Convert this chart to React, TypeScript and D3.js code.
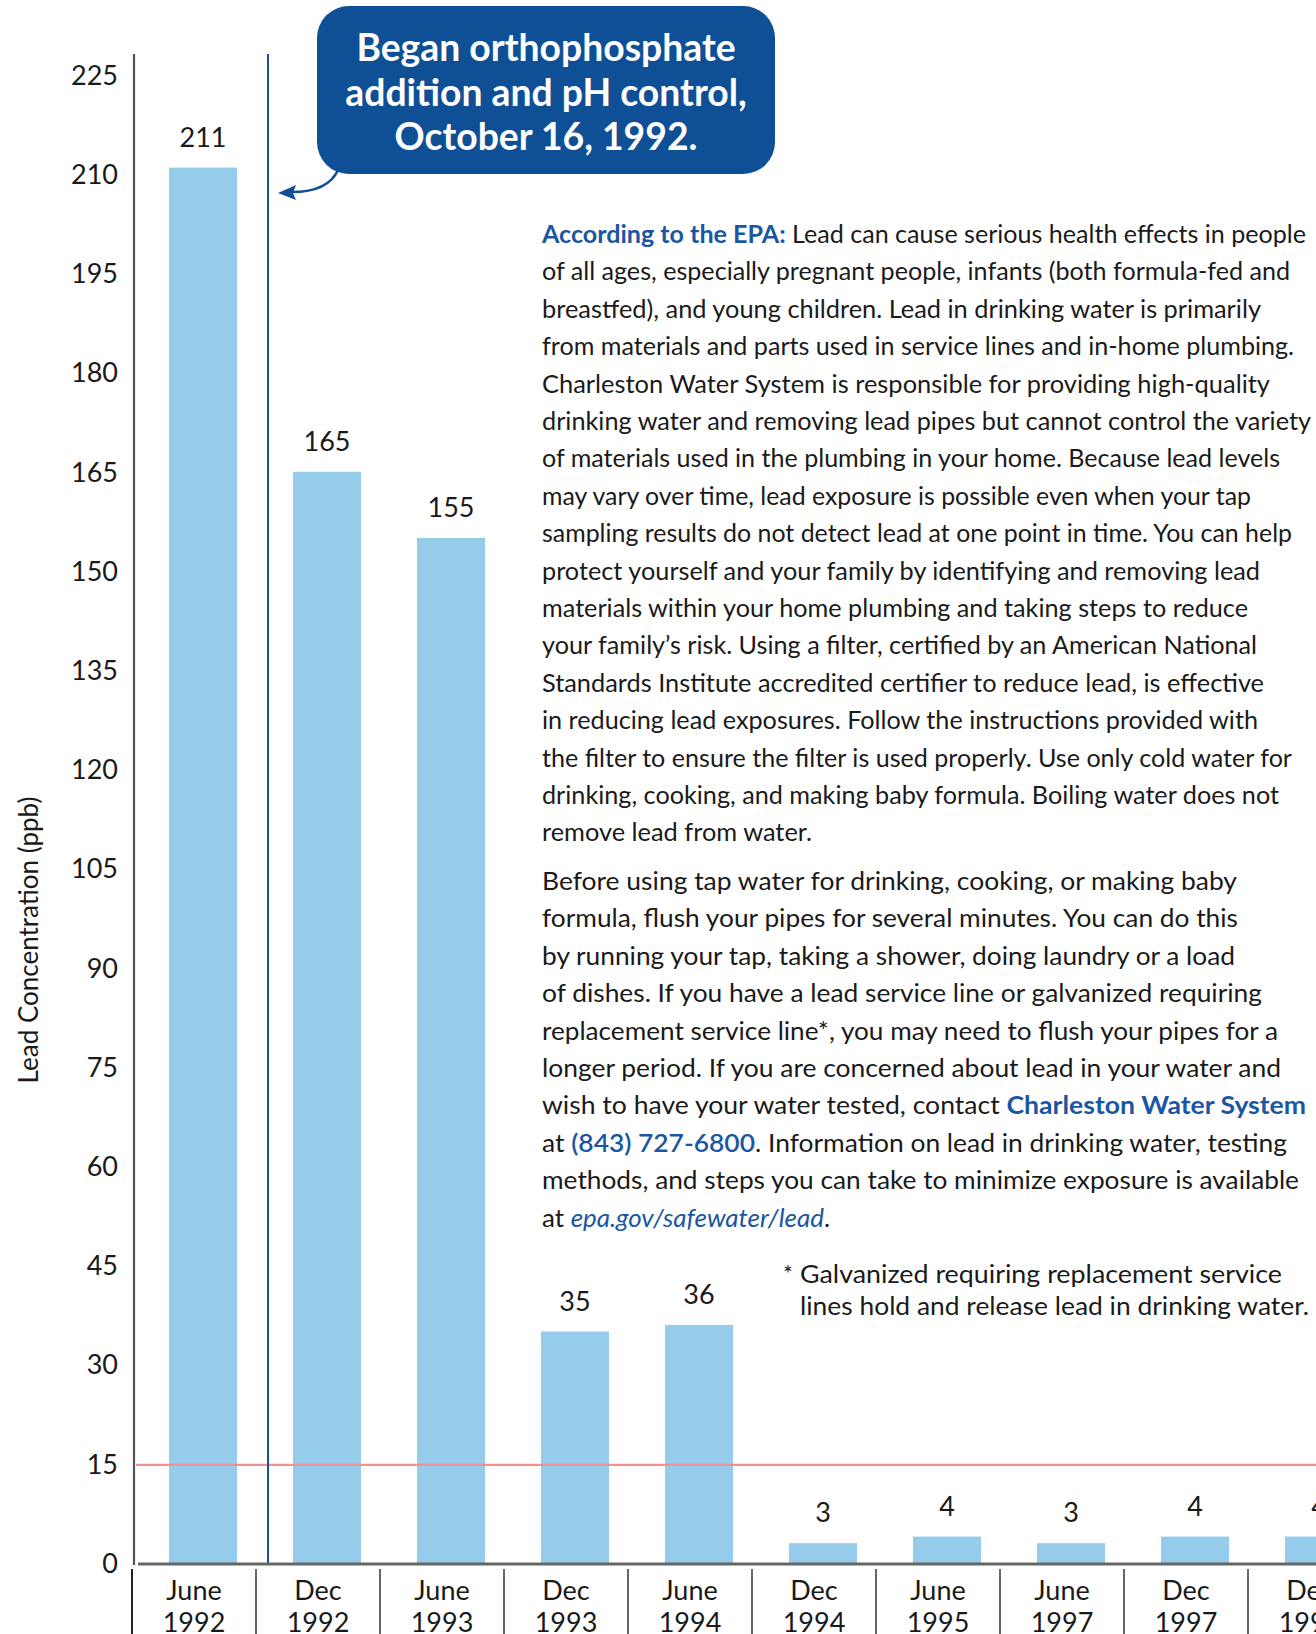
import React, { useLayoutEffect } from "react";
import * as d3 from "d3";

const categories = ["June|1992", "Dec|1992", "June|1993", "Dec|1993", "June|1994", "Dec|1994", "June|1995", "June|1997", "Dec|1997", "Dec|1998"];
const values = [211, 165, 155, 35, 36, 3, 4, 3, 4, 4];
const yTicks = [0, 15, 30, 45, 60, 75, 90, 105, 120, 135, 150, 165, 180, 195, 210, 225];
const actionLevel = 15;
const calloutLines = ["Began orthophosphate", "addition and pH control,", "October 16, 1992."];

type Seg = [string, string];
const para1: Seg[][] = [
  [["b", "According to the EPA:"], ["n", " Lead can cause serious health effects in people"]],
  [["n", "of all ages, especially pregnant people, infants (both formula-fed and"]],
  [["n", "breastfed), and young children. Lead in drinking water is primarily"]],
  [["n", "from materials and parts used in service lines and in-home plumbing."]],
  [["n", "Charleston Water System is responsible for providing high-quality"]],
  [["n", "drinking water and removing lead pipes but cannot control the variety"]],
  [["n", "of materials used in the plumbing in your home. Because lead levels"]],
  [["n", "may vary over time, lead exposure is possible even when your tap"]],
  [["n", "sampling results do not detect lead at one point in time. You can help"]],
  [["n", "protect yourself and your family by identifying and removing lead"]],
  [["n", "materials within your home plumbing and taking steps to reduce"]],
  [["n", "your family\u2019s risk. Using a filter, certified by an American National"]],
  [["n", "Standards Institute accredited certifier to reduce lead, is effective"]],
  [["n", "in reducing lead exposures. Follow the instructions provided with"]],
  [["n", "the filter to ensure the filter is used properly. Use only cold water for"]],
  [["n", "drinking, cooking, and making baby formula. Boiling water does not"]],
  [["n", "remove lead from water."]],
];
const para1Widths = [764, 748, 719, 752, 728, 769, 738, 709, 750, 718, 706, 715, 722, 716, 750, 737, 270];
const para2: Seg[][] = [
  [["n", "Before using tap water for drinking, cooking, or making baby"]],
  [["n", "formula, flush your pipes for several minutes. You can do this"]],
  [["n", "by running your tap, taking a shower, doing laundry or a load"]],
  [["n", "of dishes. If you have a lead service line or galvanized requiring"]],
  [["n", "replacement service line*, you may need to flush your pipes for a"]],
  [["n", "longer period. If you are concerned about lead in your water and"]],
  [["n", "wish to have your water tested, contact "], ["b", "Charleston Water System"]],
  [["n", "at "], ["m", "(843) 727-6800"], ["n", ". Information on lead in drinking water, testing"]],
  [["n", "methods, and steps you can take to minimize exposure is available"]],
  [["n", "at "], ["i", "epa.gov/safewater/lead"], ["n", "."]],
];
const para2Widths = [695, 696, 693, 720, 736, 739, 764, 745, 757, 288];
const footnoteLines = ["Galvanized requiring replacement service", "lines hold and release lead in drinking water."];
const footnoteWidths = [482, 509];

const W = 1316;
const H = 1634;
const FONT = "Lato, 'Open Sans', sans-serif";
const BLUE = "#1a56a3";

function segStyle(k: string): React.SVGProps<SVGTSpanElement> {
  if (k === "b") return { fill: BLUE, fontWeight: 700 };
  if (k === "m") return { fill: BLUE, fontWeight: 600 };
  if (k === "i") return { fill: BLUE, fontStyle: "italic" };
  return { fill: "#1a1a1a" };
}

export default function App() {
  useLayoutEffect(() => {
    document.body.style.margin = "0";
  }, []);

  const y = d3.scaleLinear().domain([0, 225]).range([1563, 75]);
  const x = d3.scaleBand<string>().domain(categories).range([132, 132 + categories.length * 124]).paddingInner(0).paddingOuter(0);
  const barOffset = 37;
  const barW = 68;
  const eventX = (x("Dec|1992") as number) + 12;

  const textX = 542;
  const p1Base = 243;
  const lh = 37.4;
  const p2Base = 890;

  return (
    <svg width={W} height={H} viewBox={`0 0 ${W} ${H}`} style={{ display: "block", background: "#fff" }} fontFamily={FONT}>
      {/* y tick labels */}
      {yTicks.map((t) => (
        <text key={t} x={118} y={y(t)} dy="0.36em" textAnchor="end" fontSize={27} fill="#1a1a1a">
          {t}
        </text>
      ))}
      {/* y axis title */}
      <text transform={`translate(38,940) rotate(-90)`} textAnchor="middle" fontSize={26} fill="#1a1a1a">
        Lead Concentration (ppb)
      </text>

      {/* bars */}
      {categories.map((c, i) => (
        <rect key={c} x={(x(c) as number) + barOffset} y={y(values[i])} width={barW} height={y(0) - y(values[i])} fill="#95cceb" />
      ))}
      {/* bar value labels */}
      {categories.map((c, i) => (
        <text key={c + "v"} x={(x(c) as number) + barOffset + barW / 2} y={y(values[i]) - 21} textAnchor="middle" fontSize={27} fill="#1a1a1a">
          {values[i]}
        </text>
      ))}

      {/* action level line */}
      <line x1={136} x2={W} y1={y(actionLevel) + 1} y2={y(actionLevel) + 1} stroke="#f39191" strokeWidth={2.2} />

      {/* event vertical line */}
      <line x1={eventX} x2={eventX} y1={54} y2={y(0)} stroke="#1f4f97" strokeWidth={2} />

      {/* axes */}
      <line x1={134} x2={134} y1={54} y2={y(0) + 2} stroke="#555" strokeWidth={2.2} />
      <line x1={138} x2={W} y1={y(0) + 1} y2={y(0) + 1} stroke="#666" strokeWidth={3} />
      {/* x separators */}
      {[...categories.map((c) => x(c) as number), 132 + categories.length * 124].map((sx, i) => (
        <line key={"s" + i} x1={sx} x2={sx} y1={1569} y2={H} stroke={i === 0 ? "#222" : "#666"} strokeWidth={2} />
      ))}
      {/* x labels */}
      {categories.map((c) => {
        const [a, b] = c.split("|");
        const cx = (x(c) as number) + x.bandwidth() / 2;
        return (
          <text key={c + "l"} x={cx} textAnchor="middle" fontSize={27} fill="#1a1a1a">
            <tspan x={cx} y={1600}>{a}</tspan>
            <tspan x={cx} y={1632}>{b}</tspan>
          </text>
        );
      })}

      {/* callout */}
      <path d="M 338 170 Q 328 192 292 192" fill="none" stroke="#0f4f96" strokeWidth={2.5} />
      <path d="M 278 193 L 296 185 L 293 193 L 296 200 Z" fill="#0f4f96" />
      <rect x={317} y={6} width={458} height={168} rx={32} ry={32} fill="#0f4f96" />
      {calloutLines.map((l, i) => (
        <text key={l} x={546} y={61 + i * 44.5} textAnchor="middle" fontSize={37.3} fontWeight={700} fill="#fff">
          {l}
        </text>
      ))}

      {/* paragraph 1 */}
      {para1.map((segs, i) => (
        <text key={"p1" + i} x={textX} y={p1Base + i * lh} fontSize={25} textLength={para1Widths[i]} lengthAdjust="spacingAndGlyphs">
          {segs.map(([k, s], j) => (
            <tspan key={j} {...segStyle(k)}>{s}</tspan>
          ))}
        </text>
      ))}
      {/* paragraph 2 */}
      {para2.map((segs, i) => (
        <text key={"p2" + i} x={textX} y={p2Base + i * lh} fontSize={25} textLength={para2Widths[i]} lengthAdjust="spacingAndGlyphs">
          {segs.map(([k, s], j) => (
            <tspan key={j} {...segStyle(k)}>{s}</tspan>
          ))}
        </text>
      ))}
      {/* footnote */}
      <text x={783} y={1282} fontSize={23} fill="#1a1a1a">*</text>
      {footnoteLines.map((l, i) => (
        <text key={l} x={800} y={1283 + i * 31.5} fontSize={25} fill="#1a1a1a" textLength={footnoteWidths[i]} lengthAdjust="spacingAndGlyphs">
          {l}
        </text>
      ))}
    </svg>
  );
}
